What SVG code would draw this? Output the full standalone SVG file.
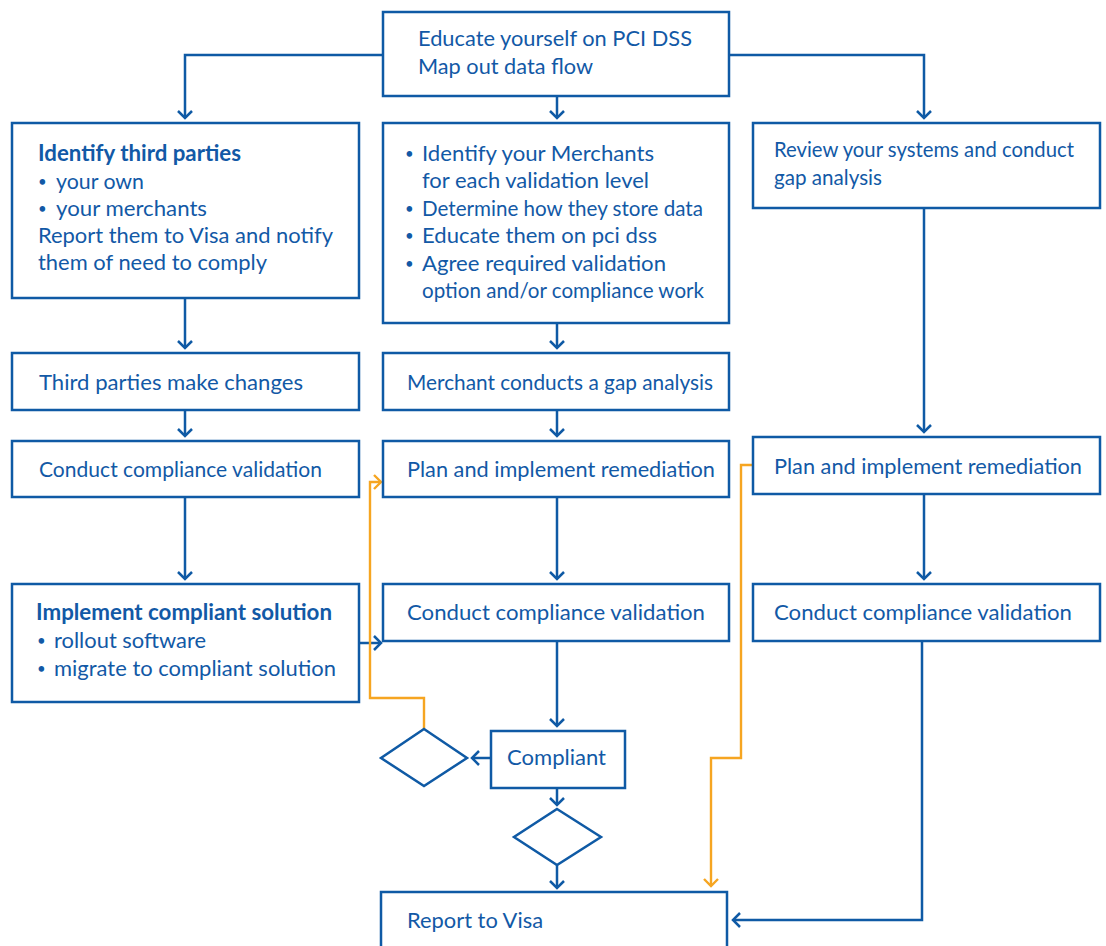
<svg xmlns="http://www.w3.org/2000/svg" width="1106" height="946" viewBox="0 0 1106 946">
<style>
.box{fill:#fff;stroke:#0f5aa5;stroke-width:2.5}
.t{font-family:Lato,"Open Sans",sans-serif;font-size:22px;fill:#1259a6}
.b{font-weight:bold}
.bu{font-size:15px}
.c{fill:none;stroke:#0f5aa5;stroke-width:2.5}
.o{fill:none;stroke:#f6a521;stroke-width:2.4}
</style>
<defs>
<marker id="ab" markerUnits="userSpaceOnUse" markerWidth="16" markerHeight="16" viewBox="0 0 16 16" refX="8" refY="8" orient="auto" overflow="visible">
<path d="M1,1 L8,8 L1,15" fill="none" stroke="#0f5aa5" stroke-width="2.5"/>
</marker>
<marker id="ao" markerUnits="userSpaceOnUse" markerWidth="16" markerHeight="16" viewBox="0 0 16 16" refX="8" refY="8" orient="auto" overflow="visible">
<path d="M1,1 L8,8 L1,15" fill="none" stroke="#f6a521" stroke-width="2.4"/>
</marker>
</defs>
<rect width="1106" height="946" fill="#fff"/>
<g id="connectors">
<path class="c" d="M383,55 H185 V118" marker-end="url(#ab)"/>
<path class="c" d="M557,96 V118" marker-end="url(#ab)"/>
<path class="c" d="M729,55 H924 V118" marker-end="url(#ab)"/>
<path class="c" d="M185,298 V348" marker-end="url(#ab)"/>
<path class="c" d="M557,323 V348" marker-end="url(#ab)"/>
<path class="c" d="M185,410 V436" marker-end="url(#ab)"/>
<path class="c" d="M557,410 V436" marker-end="url(#ab)"/>
<path class="c" d="M924,208 V432" marker-end="url(#ab)"/>
<path class="c" d="M185,497 V579" marker-end="url(#ab)"/>
<path class="c" d="M557,497 V579" marker-end="url(#ab)"/>
<path class="c" d="M924,494 V579" marker-end="url(#ab)"/>
<path class="c" d="M359,643 H381" marker-end="url(#ab)"/>
<path class="c" d="M557,641 V726" marker-end="url(#ab)"/>
<path class="c" d="M491,758 H472" marker-end="url(#ab)"/>
<path class="c" d="M557,788 V805" marker-end="url(#ab)"/>
<path class="c" d="M557,865 V888" marker-end="url(#ab)"/>
<path class="c" d="M922,641 V920 H733" marker-end="url(#ab)"/>
<path class="o" d="M424,729 V698 H370 V482 H381" marker-end="url(#ao)"/>
<path class="o" d="M753,465 H741 V758 H711 V886" marker-end="url(#ao)"/>
</g>
<g id="n-educate">
<rect class="box" x="383" y="12" width="346" height="84"/>
<text class="t" x="418" y="46" textLength="274" lengthAdjust="spacingAndGlyphs">Educate yourself on PCI DSS</text>
<text class="t" x="418" y="74" textLength="175" lengthAdjust="spacingAndGlyphs">Map out data flow</text>
</g>
<g id="n-identify-third">
<rect class="box" x="12" y="123" width="347" height="175"/>
<text class="t b" x="38" y="161" textLength="203" lengthAdjust="spacingAndGlyphs">Identify third parties</text>
<text class="t"><tspan class="bu" x="38" y="187">•</tspan><tspan x="56" y="189" textLength="88" lengthAdjust="spacingAndGlyphs">your own</tspan></text>
<text class="t"><tspan class="bu" x="38" y="214">•</tspan><tspan x="56" y="216" textLength="151" lengthAdjust="spacingAndGlyphs">your merchants</tspan></text>
<text class="t" x="38" y="243" textLength="295" lengthAdjust="spacingAndGlyphs">Report them to Visa and notify</text>
<text class="t" x="38" y="270" textLength="229" lengthAdjust="spacingAndGlyphs">them of need to comply</text>
</g>
<g id="n-identify-merchants">
<rect class="box" x="383" y="123" width="346" height="200"/>
<text class="t"><tspan class="bu" x="405" y="159">•</tspan><tspan x="422" y="161" textLength="232" lengthAdjust="spacingAndGlyphs">Identify your Merchants</tspan></text>
<text class="t" x="422" y="188" textLength="227" lengthAdjust="spacingAndGlyphs">for each validation level</text>
<text class="t"><tspan class="bu" x="405" y="214">•</tspan><tspan x="422" y="216" textLength="281" lengthAdjust="spacingAndGlyphs">Determine how they store data</tspan></text>
<text class="t"><tspan class="bu" x="405" y="241">•</tspan><tspan x="422" y="243" textLength="235" lengthAdjust="spacingAndGlyphs">Educate them on pci dss</tspan></text>
<text class="t"><tspan class="bu" x="405" y="269">•</tspan><tspan x="422" y="271" textLength="244" lengthAdjust="spacingAndGlyphs">Agree required validation</tspan></text>
<text class="t" x="422" y="298" textLength="282" lengthAdjust="spacingAndGlyphs">option and/or compliance work</text>
</g>
<g id="n-review">
<rect class="box" x="753" y="123" width="347" height="85"/>
<text class="t" x="774" y="157" textLength="300" lengthAdjust="spacingAndGlyphs">Review your systems and conduct</text>
<text class="t" x="774" y="185" textLength="108" lengthAdjust="spacingAndGlyphs">gap analysis</text>
</g>
<g id="n-third-changes">
<rect class="box" x="12" y="353" width="347" height="57"/>
<text class="t" x="39" y="390" textLength="264" lengthAdjust="spacingAndGlyphs">Third parties make changes</text>
</g>
<g id="n-merchant-gap">
<rect class="box" x="383" y="353" width="346" height="57"/>
<text class="t" x="407" y="390" textLength="306" lengthAdjust="spacingAndGlyphs">Merchant conducts a gap analysis</text>
</g>
<g id="n-left-validation">
<rect class="box" x="12" y="441" width="347" height="56"/>
<text class="t" x="39" y="477" textLength="283" lengthAdjust="spacingAndGlyphs">Conduct compliance validation</text>
</g>
<g id="n-mid-remediation">
<rect class="box" x="383" y="441" width="346" height="56"/>
<text class="t" x="407" y="477" textLength="308" lengthAdjust="spacingAndGlyphs">Plan and implement remediation</text>
</g>
<g id="n-right-remediation">
<rect class="box" x="753" y="437" width="347" height="57"/>
<text class="t" x="774" y="474" textLength="308" lengthAdjust="spacingAndGlyphs">Plan and implement remediation</text>
</g>
<g id="n-implement">
<rect class="box" x="12" y="584" width="347" height="118"/>
<text class="t b" x="36" y="620" textLength="296" lengthAdjust="spacingAndGlyphs">Implement compliant solution</text>
<text class="t"><tspan class="bu" x="37" y="646">•</tspan><tspan x="54" y="648" textLength="152" lengthAdjust="spacingAndGlyphs">rollout software</tspan></text>
<text class="t"><tspan class="bu" x="37" y="674">•</tspan><tspan x="54" y="676" textLength="282" lengthAdjust="spacingAndGlyphs">migrate to compliant solution</tspan></text>
</g>
<g id="n-mid-validation">
<rect class="box" x="383" y="584" width="346" height="57"/>
<text class="t" x="407" y="620" textLength="298" lengthAdjust="spacingAndGlyphs">Conduct compliance validation</text>
</g>
<g id="n-right-validation">
<rect class="box" x="753" y="584" width="347" height="57"/>
<text class="t" x="774" y="620" textLength="298" lengthAdjust="spacingAndGlyphs">Conduct compliance validation</text>
</g>
<g id="n-compliant">
<rect class="box" x="491" y="731" width="134" height="57"/>
<text class="t" x="507" y="765" textLength="99" lengthAdjust="spacingAndGlyphs">Compliant</text>
</g>
<g id="n-diamond-left">
<polygon class="box" points="424,729 467,758 424,786 381,758"/>
</g>
<g id="n-diamond-mid">
<polygon class="box" points="557,809 601,837 557,865 514,837"/>
</g>
<g id="n-report">
<rect class="box" x="381" y="892" width="346" height="70"/>
<text class="t" x="407" y="928" textLength="136" lengthAdjust="spacingAndGlyphs">Report to Visa</text>
</g>
</svg>
